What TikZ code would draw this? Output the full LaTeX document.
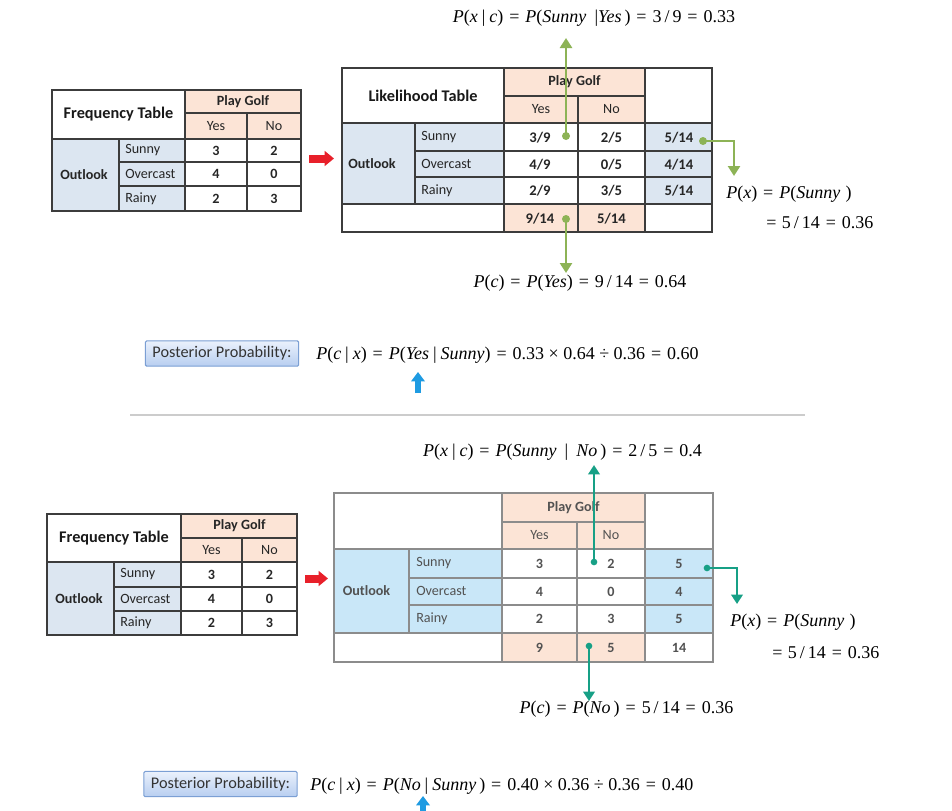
\documentclass[tikz,border=0pt]{standalone}
\usepackage{fontspec}
\setmainfont{Carlito}
\newfontfamily\ser{Liberation Serif}
\usetikzlibrary{arrows.meta}
\definecolor{peach}{HTML}{FCE4D6}
\definecolor{bgray}{HTML}{DCE6F1}
\definecolor{lblue}{HTML}{C9E7F8}
\definecolor{gline}{HTML}{3C3C3C}
\definecolor{tline}{HTML}{8C8C8C}
\definecolor{ggreen}{HTML}{8DB356}
\definecolor{tealc}{HTML}{17A086}
\definecolor{redar}{HTML}{E8202A}
\definecolor{bluear}{HTML}{1E9BE2}
\definecolor{boxtop}{HTML}{EAF1FC}
\definecolor{boxbot}{HTML}{B8CEF0}
\definecolor{boxline}{HTML}{7B9FD4}
\newcommand\mv[1]{\textit{#1}}
\newcommand\eqs{\hspace{0.33em}=\hspace{0.33em}}
\newcommand\vbr{\hspace{0.22em}|\hspace{0.22em}}
\newcommand\opr[1]{\hspace{0.25em}#1\hspace{0.25em}}
\begin{document}
\begin{tikzpicture}[x=0.75pt,y=-0.75pt,
  tabA/.style={draw=gline,line width=1.1pt},
  tabB/.style={draw=tline,line width=0.9pt},
  ttl/.style={font=\bfseries\fontsize{12.2}{14}\selectfont,inner sep=0pt,text=black!90},
  hd/.style={font=\bfseries\fontsize{10.6}{12}\selectfont,inner sep=0pt,text=black!85},
  cl/.style={font=\fontsize{10.6}{12}\selectfont,inner sep=0pt,text=black!85},
  lb/.style={cl,anchor=west},
  num/.style={font=\bfseries\fontsize{10.6}{12}\selectfont,inner sep=0pt,text=black!85},
  numL/.style={font=\bfseries\fontsize{11}{12}\selectfont,inner sep=0pt,text=black!85},
  gr/.style={text=black!68},
  fm/.style={font=\ser\fontsize{13.5}{15}\selectfont,inner sep=0pt,text=black},
  garr/.style={draw=ggreen,line width=2.2pt,-{Triangle[length=7.5pt,width=9pt]}},
  tarr/.style={draw=tealc,line width=1.8pt,-{Triangle[length=7pt,width=8.5pt]}},
  rarr/.style={draw=redar,line width=6pt,-{Triangle[length=7pt,width=11pt]}},
  barr/.style={draw=bluear,line width=3.8pt,-{Triangle[length=7pt,width=10pt]}},
  postbox/.style={draw=boxline,line width=0.8pt,top color=boxtop,bottom color=boxbot,
    rounded corners=1pt,minimum width=115pt,minimum height=19pt,inner sep=0pt,
    font=\fontsize{12.2}{14}\selectfont,text=black!80}
]
\clip (0,0) rectangle (952,810);
\fill[white] (0,0) rectangle (952,810);

%================ TOP FREQUENCY TABLE
\fill[peach] (185,90) rectangle (301,139);
\fill[bgray] (52,139) rectangle (185,211);
\draw[tabA] (185,90) -- (185,211) (185,113) -- (301,113) (52,139) -- (301,139)
  (247,113) -- (247,211) (119,139) -- (119,211) (119,162) -- (301,162) (119,186) -- (301,186);
\draw[tabA,line width=1.5pt] (52,90) rectangle (301,211);
\node[ttl] (t1title) at (118.5,114.5) {Frequency Table};
\node[hd] (t1pg) at (243,101.5) {Play Golf};
\node[cl] (t1yes) at (216,126) {Yes};
\node[cl] (t1no) at (274,126) {No};
\node[hd] (t1out) at (84,175) {Outlook};
\node[lb] (t1sun) at (125,150.5) {Sunny};
\node[lb] (t1ove) at (125,174) {Overcast};
\node[lb] (t1rai) at (125,198.5) {Rainy};
\node[num] (t1a) at (216,150.5) {3};
\node[num] (t1b) at (274,150.5) {2};
\node[num] (t1c) at (216,174) {4};
\node[num] (t1d) at (274,174) {0};
\node[num] (t1e) at (216,198.5) {2};
\node[num] (t1f) at (274,198.5) {3};

\coordinate (ra1s) at (309,158.5);
\coordinate (ra1e) at (334,158.5);
\draw[rarr] (ra1s) -- (ra1e);

%================ LIKELIHOOD TABLE
\fill[peach] (504,68) rectangle (645,123);
\fill[peach] (504,204) rectangle (645,232);
\fill[bgray] (342,123) rectangle (504,204);
\fill[bgray] (645,123) rectangle (712,204);
\draw[tabA] (504,68) -- (504,232) (645,68) -- (645,232) (578,96) -- (578,232) (415,123) -- (415,204)
  (504,96) -- (645,96) (342,123) -- (712,123) (415,151) -- (712,151) (415,177) -- (712,177) (342,204) -- (712,204);
\draw[tabA,line width=1.5pt] (342,68) rectangle (712,232);
\node[ttl] (t2title) at (423,95.5) {Likelihood Table};
\node[hd] (t2pg) at (574.5,82) {Play Golf};
\node[cl] (t2yes) at (541,109.5) {Yes};
\node[cl] (t2no) at (611.5,109.5) {No};
\node[hd] (t2out) at (372,164) {Outlook};
\node[lb] (t2sun) at (421,137) {Sunny};
\node[lb] (t2ove) at (421,164) {Overcast};
\node[lb] (t2rai) at (421,190.5) {Rainy};
\node[numL] (t2a) at (540,137.5) {3/9};
\node[numL] (t2b) at (611.5,137.5) {2/5};
\node[numL] (t2c) at (540,164.5) {4/9};
\node[numL] (t2d) at (611.5,164.5) {0/5};
\node[numL] (t2e) at (540,191) {2/9};
\node[numL] (t2f) at (611.5,191) {3/5};
\node[numL] (t2g) at (679,137.5) {5/14};
\node[numL] (t2h) at (679,164.5) {4/14};
\node[numL] (t2i) at (679,191) {5/14};
\node[numL] (t2j) at (540,218.5) {9/14};
\node[numL] (t2k) at (611.5,218.5) {5/14};

%================ TOP FORMULAS
\node[fm] (f1) at (594,18) {\mv{P}(\mv{x}\vbr\mv{c})\eqs\mv{P}(\mv{Sunny}\hspace{0.45em}|\mv{Yes}\,)\eqs3\,/\,9\eqs0.33};
\node[fm,anchor=west] (f2) at (726,194) {\mv{P}(\mv{x})\eqs\mv{P}(\mv{Sunny}\hspace{0.3em})};
\node[fm,anchor=west] (f2b) at (766,223) {=\hspace{0.3em}5\,/\,14\eqs0.36};
\node[fm] (f3) at (580,283) {\mv{P}(\mv{c})\eqs\mv{P}(\mv{Yes})\eqs9\,/\,14\eqs0.64};

\coordinate (g1s) at (566,136); \coordinate (g1e) at (566,38);
\draw[garr] (g1s) -- (g1e); \fill[ggreen] (g1s) circle (3pt);
\coordinate (g2s) at (703,141); \coordinate (g2e) at (734,176);
\draw[garr] (g2s) -| (g2e); \fill[ggreen] (g2s) circle (3pt);
\coordinate (g3s) at (566,219); \coordinate (g3e) at (566,273);
\draw[garr] (g3s) -- (g3e); \fill[ggreen] (g3s) circle (3pt);

%================ POSTERIOR 1
\node[postbox] (pb1) at (222,353.5) {Posterior Probability:};
\node[fm,anchor=west] (f4) at (316,355) {\mv{P}(\mv{c}\vbr\mv{x})\eqs\mv{P}(\mv{Yes}\vbr\mv{Sunny})\eqs0.33\opr{×}0.64\opr{÷}0.36\eqs0.60};
\coordinate (b1s) at (418,393); \coordinate (b1e) at (418,372);
\draw[barr] (b1s) -- (b1e);

\coordinate (sepL) at (130,415); \coordinate (sepR) at (805,415);
\draw[black!20,line width=0.8pt] (sepL) -- (sepR);

%================ BOTTOM FREQUENCY TABLE
\fill[peach] (181,514) rectangle (297,562);
\fill[bgray] (47,562) rectangle (181,635);
\draw[tabA] (181,514) -- (181,635) (181,538) -- (297,538) (47,562) -- (297,562)
  (242,538) -- (242,635) (114,562) -- (114,635) (114,587) -- (297,587) (114,611) -- (297,611);
\draw[tabA,line width=1.5pt] (47,514) rectangle (297,635);
\node[ttl] (t3title) at (114,538) {Frequency Table};
\node[hd] (t3pg) at (239.5,526) {Play Golf};
\node[cl] (t3yes) at (211.5,550) {Yes};
\node[cl] (t3no) at (269.5,550) {No};
\node[hd] (t3out) at (79,599) {Outlook};
\node[lb] (t3sun) at (120,574.5) {Sunny};
\node[lb] (t3ove) at (120,599) {Overcast};
\node[lb] (t3rai) at (120,623) {Rainy};
\node[num] (t3a) at (211.5,574.5) {3};
\node[num] (t3b) at (269.5,574.5) {2};
\node[num] (t3c) at (211.5,599) {4};
\node[num] (t3d) at (269.5,599) {0};
\node[num] (t3e) at (211.5,623) {2};
\node[num] (t3f) at (269.5,623) {3};

\coordinate (ra2s) at (305,578.5);
\coordinate (ra2e) at (328,578.5);
\draw[rarr] (ra2s) -- (ra2e);

%================ BOTTOM BIG TABLE
\fill[peach] (502,493) rectangle (645,549);
\fill[peach] (502,633) rectangle (645,662);
\fill[lblue] (334,549) rectangle (502,633);
\fill[lblue] (645,549) rectangle (713,633);
\draw[tabB] (502,493) -- (502,662) (645,493) -- (645,662) (577,522) -- (577,662) (409,549) -- (409,633)
  (502,522) -- (645,522) (334,549) -- (713,549) (409,578) -- (713,578) (409,605) -- (713,605) (334,633) -- (713,633);
\draw[tabB,line width=1.2pt] (334,493) rectangle (713,662);
\node[hd,gr] (t4pg) at (573.5,507.5) {Play Golf};
\node[cl,gr] (t4yes) at (539.5,535.5) {Yes};
\node[cl,gr] (t4no) at (611,535.5) {No};
\node[hd,gr] (t4out) at (366.5,591) {Outlook};
\node[lb,gr] (t4sun) at (416,563) {Sunny};
\node[lb,gr] (t4ove) at (416,591) {Overcast};
\node[lb,gr] (t4rai) at (416,618.5) {Rainy};
\node[num,gr] (t4a) at (539.5,564) {3};
\node[num,gr] (t4b) at (611,564) {2};
\node[num,gr] (t4c) at (539.5,591.5) {4};
\node[num,gr] (t4d) at (611,591.5) {0};
\node[num,gr] (t4e) at (539.5,619) {2};
\node[num,gr] (t4f) at (611,619) {3};
\node[num,gr] (t4g) at (679,564) {5};
\node[num,gr] (t4h) at (679,591.5) {4};
\node[num,gr] (t4i) at (679,619) {5};
\node[num,gr] (t4j) at (539.5,647.5) {9};
\node[num,gr] (t4k) at (611,647.5) {5};
\node[num,gr] (t4l) at (679,647.5) {14};

%================ BOTTOM FORMULAS
\node[fm] (f5) at (562.5,452) {\mv{P}(\mv{x}\vbr\mv{c})\eqs\mv{P}(\mv{Sunny}\hspace{0.45em}|\hspace{0.45em}\mv{No}\,)\eqs2\,/\,5\eqs0.4};
\node[fm,anchor=west] (f6) at (730,622) {\mv{P}(\mv{x})\eqs\mv{P}(\mv{Sunny}\hspace{0.3em})};
\node[fm,anchor=west] (f6b) at (772,653) {=\hspace{0.3em}5\,/\,14\eqs0.36};
\node[fm] (f7) at (626.5,709) {\mv{P}(\mv{c})\eqs\mv{P}(\mv{No}\,)\eqs5\,/\,14\eqs0.36};

\coordinate (q1s) at (594,562); \coordinate (q1e) at (594,465);
\draw[tarr] (q1s) -- (q1e); \fill[tealc] (q1s) circle (2.5pt);
\coordinate (q2s) at (707,568); \coordinate (q2e) at (737,604);
\draw[tarr] (q2s) -| (q2e); \fill[tealc] (q2s) circle (2.5pt);
\coordinate (q3s) at (589,646); \coordinate (q3e) at (589,701);
\draw[tarr] (q3s) -- (q3e); \fill[tealc] (q3s) circle (2.5pt);

%================ POSTERIOR 2
\node[postbox] (pb2) at (220.5,784) {Posterior Probability:};
\node[fm,anchor=west] (f8) at (310,786) {\mv{P}(\mv{c}\vbr\mv{x})\eqs\mv{P}(\mv{No}\vbr\mv{Sunny}\,)\eqs0.40\opr{×}0.36\opr{÷}0.36\eqs0.40};
\coordinate (b2s) at (423,815); \coordinate (b2e) at (423,796);
\draw[barr] (b2s) -- (b2e);
\end{tikzpicture}
\end{document}
